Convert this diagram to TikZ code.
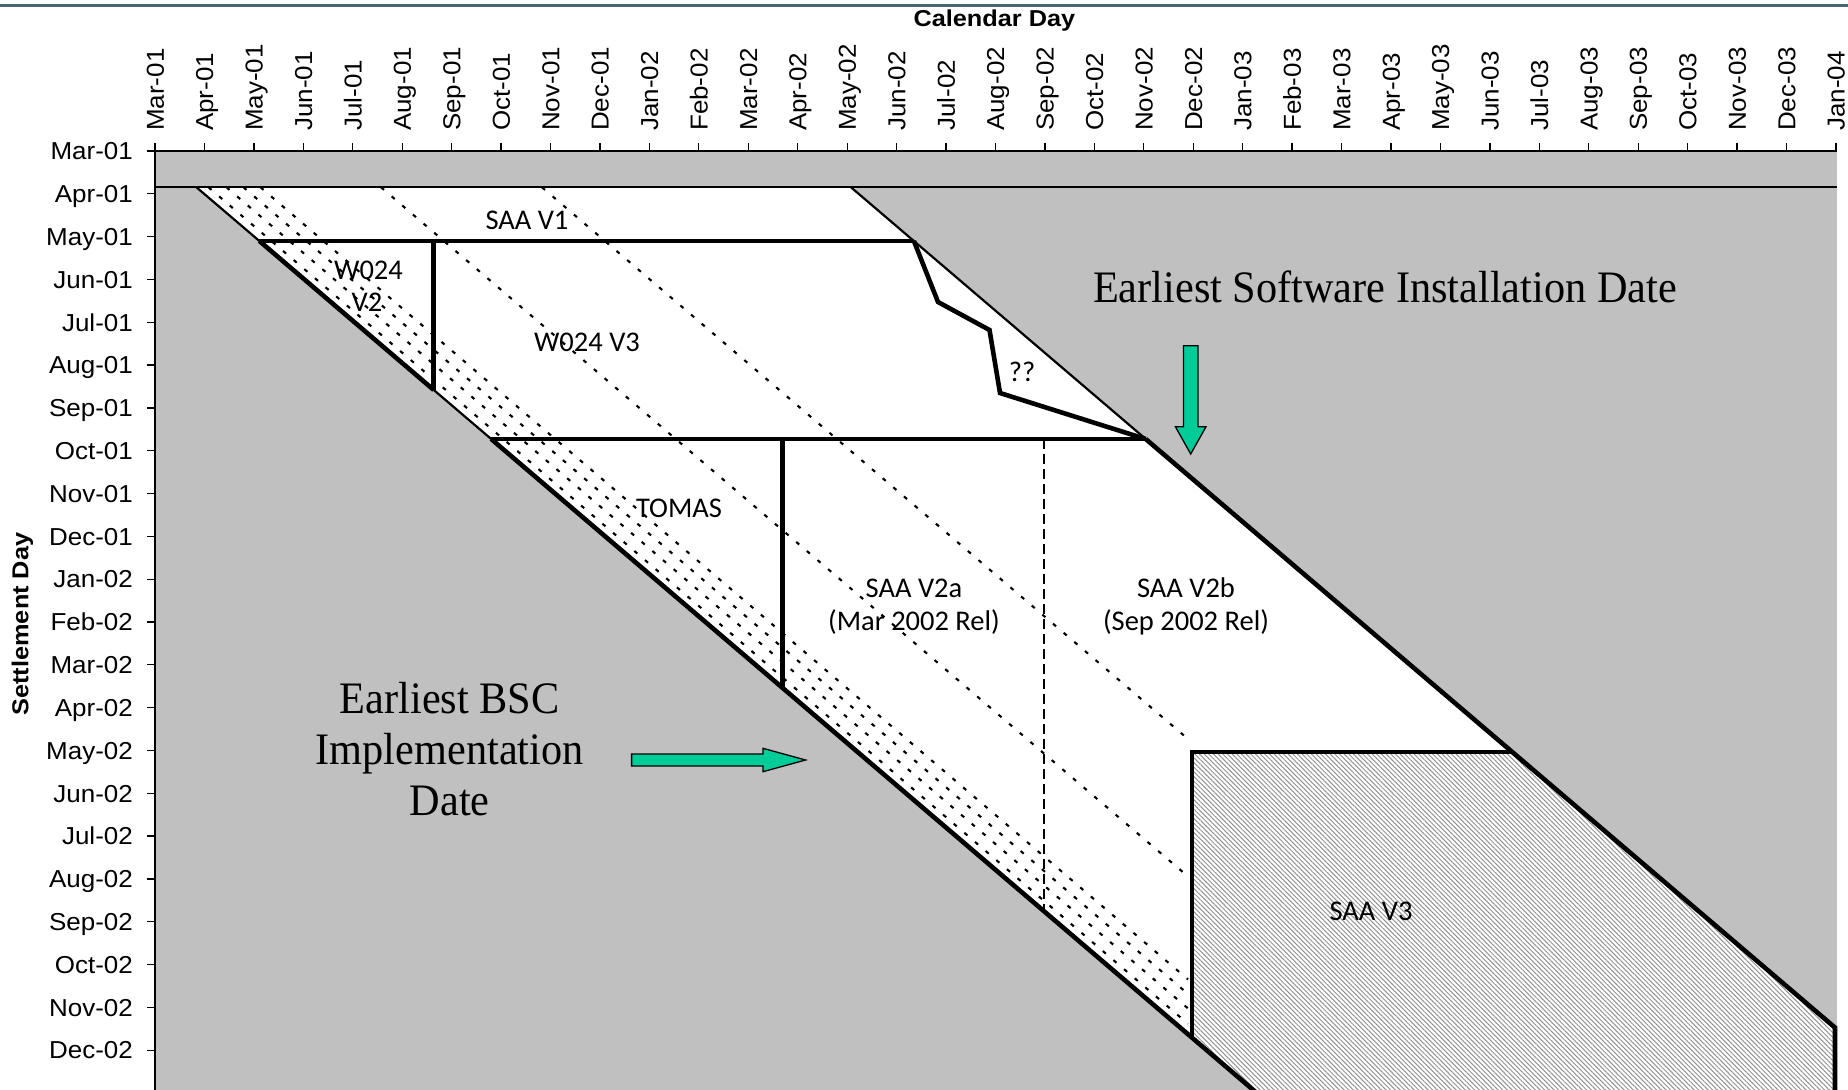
\documentclass[tikz,border=0pt]{standalone}
\usepackage{fontspec}
\usetikzlibrary{patterns.meta}
\newfontfamily\lblfont{Carlito}
\newfontfamily\axfont[FakeStretch=1.06]{Liberation Sans}
\newfontfamily\ttlfont[FakeStretch=1.1]{Liberation Sans}
\newfontfamily\bigserif[FakeStretch=0.94]{Liberation Serif}
\definecolor{plotgray}{RGB}{192,192,192}
\definecolor{arrowgreen}{RGB}{0,204,153}
\definecolor{topbar}{RGB}{70,104,118}
\begin{document}
\begin{tikzpicture}[x=1pt,y=-1pt,
  thinln/.style={line width=2.2pt},
  thickln/.style={line width=4.6pt, line join=miter},
  dotln/.style={line width=2.1pt, dash pattern=on 4pt off 10pt},
  dashln/.style={line width=1.5pt, dash pattern=on 10pt off 5pt},
  tickln/.style={line width=1.3pt},
  region/.style={font=\lblfont\fontsize{28.5}{33}\selectfont, inner sep=0pt, anchor=base},
  ylab/.style={font=\axfont\fontsize{24.5}{28}\selectfont, inner sep=0pt, anchor=east, text height=17.5pt, text depth=0pt},
  xlab/.style={font=\axfont\fontsize{24.5}{28}\selectfont, inner sep=0pt, anchor=west, rotate=90, text height=17.5pt, text depth=0pt},
  axtitle/.style={font=\ttlfont\bfseries\fontsize{23}{26}\selectfont, inner sep=0pt},
  bigtxt/.style={font=\bigserif\fontsize{45}{51}\selectfont, inner sep=0pt, anchor=base},
  greenarrow/.style={fill=arrowgreen, draw=black, line width=1.3pt, line join=miter}
]
\useasboundingbox (0,0) rectangle (1848,1090);
\clip (0,0) rectangle (1848,1090);
\fill[white] (0,0) rectangle (1848,1090);
% top bar
\draw[topbar, line width=3pt] (0,5) -- (1848,5);

% key points
\coordinate (pTL) at (155,151);
\coordinate (pBR) at (1837,1090);
\coordinate (L0) at (196.5,187.3);
\coordinate (R0) at (851,187.3);
\coordinate (L1) at (259.4,241);
\coordinate (R1) at (913.9,241);
\coordinate (W2t) at (433.7,241);
\coordinate (W2b) at (433.7,389.9);
\coordinate (L2) at (491.2,439);
\coordinate (R2) at (1145.7,439);
\coordinate (Tt) at (782.5,439);
\coordinate (Tb) at (782.5,687.7);
\coordinate (Dt) at (1044,439);
\coordinate (Db) at (1044,911.1);
\coordinate (V3b) at (1192,1037.5);
\coordinate (V3t) at (1192,752);
\coordinate (V3r) at (1512.2,752);
\coordinate (Rend) at (1835,1027.6);
\coordinate (Rbot) at (1835,1100);
\coordinate (Lbot) at (1265,1100);
\coordinate (Q1) at (938,302);
\coordinate (Q2) at (989.5,330);
\coordinate (Q3) at (1000,393);

% plot background
\fill[plotgray] (pTL) rectangle (pBR);
\fill[white] (L0) -- (R0) -- (Rend) -- (Rbot) -- (Lbot) -- cycle;
\fill[white] (V3t) -- (V3r) -- (Rend) -- (Rbot) -- (Lbot) -- (V3b) -- cycle;
\fill[pattern={Lines[angle=-45,distance=3.3pt,line width=1pt]}, pattern color=black!42]
  (V3t) -- (V3r) -- (Rend) -- (Rbot) -- (Lbot) -- (V3b) -- cycle;

% dotted run lines
\foreach \s in {208.5,226.5,243.5,260.5,381,542}
  \draw[dotln] (\s,187.3) -- (1188,{187.3+0.854*(1188-\s)});
% dashed vertical
\draw[dashln] (Dt) -- (Db);

% thin lines
\draw[thinln] (155,187.3) -- (1837,187.3);
\draw[thinln] (L0) -- (L1);
\draw[thinln] (W2b) -- (L2);
\draw[thinln] (R0) -- (R2);
\draw[line width=2.4pt] (155,1095) -- (155,151) -- (1837,151);

% thick boundaries
\draw[thickln] (L1) -- (W2b);
\draw[thickln] (L2) -- (Lbot);
\draw[thickln] (R2) -- (Rend) -- (Rbot);
\draw[thickln] (L1) -- (R1);
\draw[thickln] (L2) -- (R2);
\draw[thickln] (W2t) -- (W2b);
\draw[thickln, line width=5.5pt] (Tt) -- (Tb);
\draw[thickln] (V3b) -- (V3t) -- (V3r);
\draw[thickln] (R1) -- (Q1) -- (Q2) -- (Q3) -- (R2);

% ticks
\foreach \i in {0,...,34}
  \draw[tickln] ({155+49.44*\i},143) -- ({155+49.44*\i},151);
\foreach \j in {0,...,22}
  \draw[tickln] (147,{151+42.82*\j}) -- (155,{151+42.82*\j});

% x labels
\foreach \lab [count=\i from 0] in {Mar-01,Apr-01,May-01,Jun-01,Jul-01,Aug-01,Sep-01,Oct-01,Nov-01,Dec-01,Jan-02,Feb-02,Mar-02,Apr-02,May-02,Jun-02,Jul-02,Aug-02,Sep-02,Oct-02,Nov-02,Dec-02,Jan-03,Feb-03,Mar-03,Apr-03,May-03,Jun-03,Jul-03,Aug-03,Sep-03,Oct-03,Nov-03,Dec-03,Jan-04}
  \node[xlab] (xl\i) at ({155+49.44*\i},131) {\lab};
% y labels
\foreach \lab [count=\j from 0] in {Mar-01,Apr-01,May-01,Jun-01,Jul-01,Aug-01,Sep-01,Oct-01,Nov-01,Dec-01,Jan-02,Feb-02,Mar-02,Apr-02,May-02,Jun-02,Jul-02,Aug-02,Sep-02,Oct-02,Nov-02,Dec-02}
  \node[ylab] (yl\j) at (133,{151+42.82*\j}) {\lab};

% axis titles
\node[axtitle, anchor=base] (caltitle) at (994.4,26.7) {Calendar Day};
\node[axtitle, rotate=90, text height=16.5pt, text depth=0pt] (settitle) at (20,624) {Settlement Day};

% region labels
\node[region] (saav1) at (527,229) {SAA V1};
\node[region] (w024a) at (368.5,279) {W024};
\node[region] (w024b) at (367,311) {V2};
\node[region] (w024v3) at (587,351) {W024 V3};
\node[region] (qq) at (1022,381) {??};
\node[region] (tomas) at (679,517) {TOMAS};
\node[region] (v2a) at (914,597) {SAA V2a};
\node[region] (v2arel) at (914,630) {(Mar 2002 Rel)};
\node[region] (v2b) at (1186,597) {SAA V2b};
\node[region] (v2brel) at (1186,630) {(Sep 2002 Rel)};
\node[region] (v3) at (1371,920) {SAA V3};

% big annotations
\node[bigtxt] (swinst) at (1385,302.5) {Earliest Software Installation Date};
\node[bigtxt] (bsc1) at (449.7,713.5) {Earliest BSC};
\node[bigtxt] (bsc2) at (449.7,764.5) {Implementation};
\node[bigtxt] (bsc3) at (449.7,815.5) {Date};

% green arrows
\draw[greenarrow] (1183.4,345.7) -- (1198,345.7) -- (1198,426.7) -- (1206,426.7) -- (1190.7,454) -- (1175.4,426.7) -- (1183.4,426.7) -- cycle;
\draw[greenarrow] (631.6,754) -- (762.9,754) -- (762.9,748.3) -- (805.6,760) -- (762.9,771.7) -- (762.9,766) -- (631.6,766) -- cycle;
\end{tikzpicture}
\end{document}
